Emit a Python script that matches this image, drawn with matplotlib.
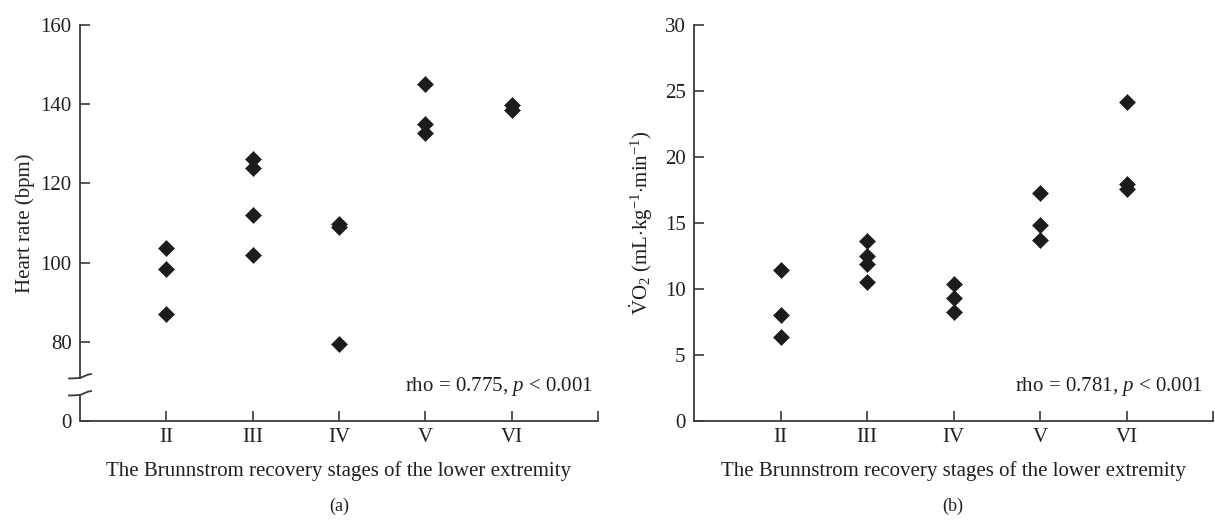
import matplotlib
matplotlib.use("Agg")
import matplotlib.pyplot as plt
import matplotlib.transforms as mtransforms
import numpy as np

plt.rcParams['font.family'] = ['Liberation Serif', 'DejaVu Serif']
plt.rcParams['mathtext.fontset'] = 'custom'
plt.rcParams['mathtext.rm'] = 'Liberation Serif'
plt.rcParams['mathtext.it'] = 'Liberation Serif:italic'
plt.rcParams['mathtext.bf'] = 'Liberation Serif:bold'

# ---------------- data ----------------
stages = ["II", "III", "IV", "V", "VI"]
stage_pos = [2, 3, 4, 5, 6]

hr_II = [103.6, 98.4, 87.0]
hr_III = [126.2, 123.8, 111.9, 101.8]
hr_IV = [109.8, 109.0, 79.5]
hr_V = [145.2, 135.0, 132.8]
hr_VI = [139.7, 138.5]

vo2_II = [11.44, 8.03, 6.34]
vo2_III = [13.64, 12.52, 11.89, 10.5]
vo2_IV = [10.38, 9.34, 8.28]
vo2_V = [17.3, 14.85, 13.71]
vo2_VI = [24.17, 17.95, 17.55]

hr_ticks = [60, 80, 100, 120, 140, 160]
hr_ticklabels = ["0", "80", "100", "120", "140", "160"]
vo2_ticks = [0, 5, 10, 15, 20, 25, 30]

ann_a = r"rho = 0.775, $p$ < 0.001"
ann_b = r"rho = 0.781, $p$ < 0.001"

TXT = "#231f20"
AX = "#3a3a3a"
MK = "#1e1b1c"
FS = 15

fig = plt.figure(figsize=(12.15, 5.2), dpi=100)
ax_a = fig.add_axes([80 / 1215, 1 - 421 / 520, (598 - 80) / 1215, (421 - 25) / 520])
ax_b = fig.add_axes([694 / 1215, 1 - 421 / 520, (1213 - 694) / 1215, (421 - 25) / 520])


def style(ax):
    for s in ["top", "right"]:
        ax.spines[s].set_visible(False)
    for s in ["left", "bottom"]:
        ax.spines[s].set_color(AX)
        ax.spines[s].set_linewidth(1.3)
    ax.set_xlim(1, 7)
    ax.set_xticks(stage_pos + [7])
    ax.set_xticklabels(stages + [""])
    ax.tick_params(axis="both", direction="in", length=7, width=1.2, color=AX,
                   labelsize=FS, labelcolor=TXT)
    ax.tick_params(axis="y", pad=6)
    ax.tick_params(axis="x", pad=5)
    ax.set_xlabel("The Brunnstrom recovery stages of the lower extremity",
                  fontsize=FS, color=TXT, labelpad=10)


def scatter_groups(ax, groups):
    for pos, vals in zip(stage_pos, groups):
        ax.plot([pos] * len(vals), vals, linestyle="none", marker="D",
                markersize=8.0, color=MK, markeredgewidth=0.4, clip_on=False)


# ---- panel a ----
style(ax_a)
ax_a.set_ylim(60, 160)
ax_a.set_yticks(hr_ticks)
ax_a.set_yticklabels(hr_ticklabels)
ax_a.set_ylabel("Heart rate (bpm)", fontsize=FS, color=TXT, labelpad=4)
scatter_groups(ax_a, [hr_II, hr_III, hr_IV, hr_V, hr_VI])
ax_a.text(0.99, 0.087, ann_a, transform=ax_a.transAxes, ha="right", va="center",
          fontsize=FS, color=TXT)

# axis break
brk_top, brk_bot = 70.9, 66.6
ax_a.spines["left"].set_bounds(brk_top, 160)
ax_a.plot([1, 1], [60, brk_bot], color=AX, lw=1.3, clip_on=False, solid_capstyle="butt")
cx = np.array([-11, -6, -2, 0, 2, 5, 8, 11]) / 100.0
cy = np.array([-0.6, -0.5, -0.2, 0, 0.6, 2.0, 3.2, 3.8]) / 100.0
for yb in (brk_top, brk_bot):
    tr = fig.dpi_scale_trans + mtransforms.ScaledTranslation(1, yb, ax_a.transData)
    ax_a.plot(cx, cy, color=AX, lw=1.3, transform=tr, clip_on=False)

# ---- panel b ----
style(ax_b)
ax_b.set_ylim(0, 30)
ax_b.set_yticks(vo2_ticks)
ax_b.set_ylabel(r"$\dot{\mathrm{V}}\mathrm{O}_2$ (mL$\cdot$kg$^{-1}$$\cdot$min$^{-1}$)",
                fontsize=FS, color=TXT, labelpad=7)
scatter_groups(ax_b, [vo2_II, vo2_III, vo2_IV, vo2_V, vo2_VI])
ax_b.text(0.98, 0.087, ann_b, transform=ax_b.transAxes, ha="right", va="center",
          fontsize=FS, color=TXT)

fig.text(339 / 1215, 1 - 506 / 520, "(a)", ha="center", va="center", fontsize=13, color=TXT)
fig.text(953 / 1215, 1 - 506 / 520, "(b)", ha="center", va="center", fontsize=13, color=TXT)

fig.savefig("out.png", dpi=100)
